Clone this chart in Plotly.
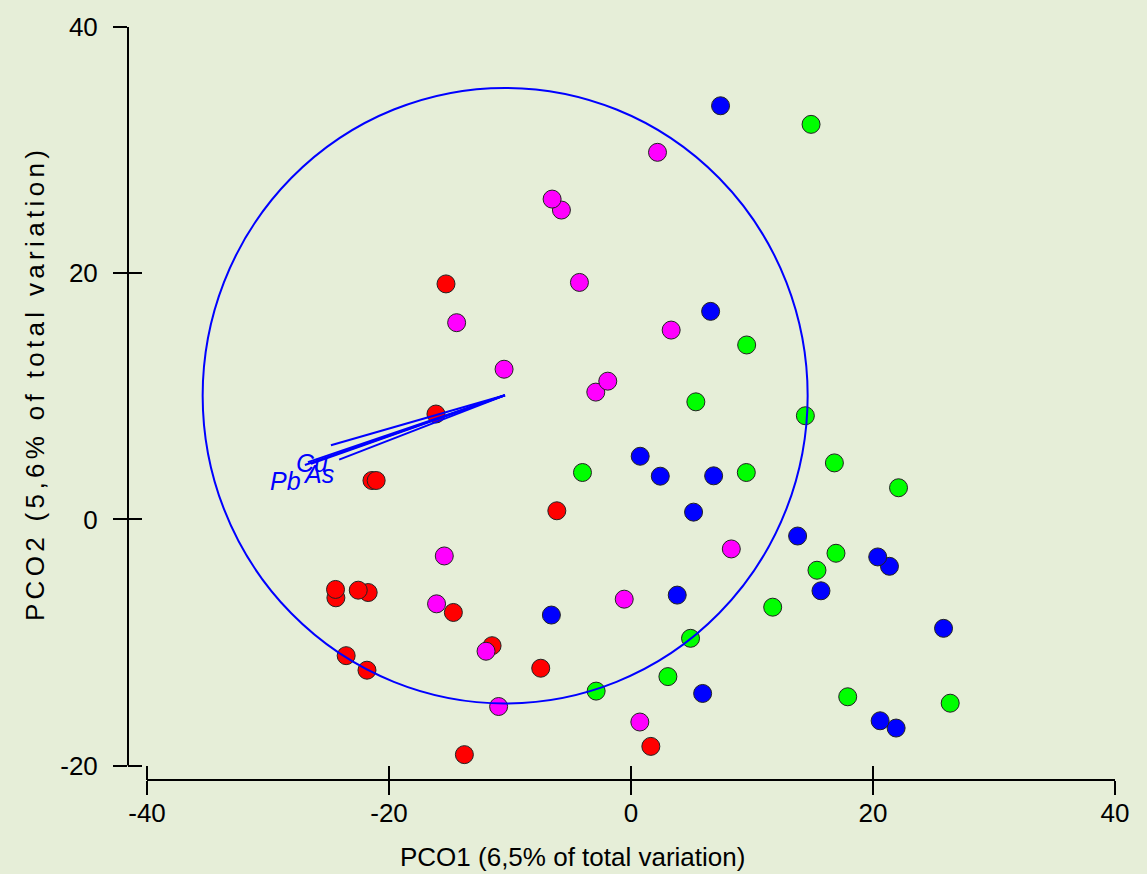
import plotly.graph_objects as go

# ---- data ----
red_x = [-15.29, -16.12, -21.41, -21.06, -6.13, -24.39, -24.42, -21.72, -22.54, -14.68, -11.48, -23.54, -21.82, -7.46, 1.64, -13.77]
red_y = [19.13, 8.56, 3.16, 3.16, 0.70, -6.37, -5.69, -5.94, -5.75, -7.56, -10.26, -11.07, -12.25, -12.09, -18.44, -19.11]

green_x = [14.88, 9.56, 5.36, 14.41, -4.01, 9.53, 16.81, 22.11, 16.94, 15.37, 11.71, 4.92, 3.05, -2.88, 17.91, 26.38]
green_y = [32.09, 14.17, 9.55, 8.42, 3.81, 3.81, 4.59, 2.57, -2.75, -4.13, -7.13, -9.66, -12.77, -13.95, -14.41, -14.93]

blue_x = [7.40, 6.58, 0.76, 2.42, 6.83, 5.17, 13.77, 21.36, 20.39, 15.70, 3.82, 25.83, 5.92, 21.91, 20.59, -6.58]
blue_y = [33.60, 16.90, 5.13, 3.51, 3.54, 0.59, -1.35, -3.81, -3.05, -5.80, -6.15, -8.85, -14.14, -16.95, -16.36, -7.77]

magenta_x = [-5.75, -6.52, -4.26, -14.41, -10.49, -2.91, -1.92, 2.19, 3.32, -15.43, -16.07, -0.56, -11.98, -10.94, 0.73, 8.29]
magenta_y = [25.13, 26.02, 19.25, 15.98, 12.20, 10.34, 11.23, 29.82, 15.38, -2.97, -6.86, -6.48, -10.71, -15.20, -16.46, -2.40]

# vector overlay: origin, end points, labels
vec_origin = (-10.42, 10.08)
vec_end_x = [-24.80, -24.12, -26.95, -26.70, -26.45]
vec_end_y = [6.02, 4.86, 4.42, 4.65, 4.52]
vec_labels = ["Cu", "As", "Pb"]
vec_label_x = [-26.35, -25.85, -28.55]
vec_label_y = [4.55, 3.65, 3.15]

circle_center = (-10.4, 10.05)
circle_radius = 25.0

tick_vals_x = [-40, -20, 0, 20, 40]
tick_text_x = ["-40", "-20", "0", "20", "40"]
tick_vals_y = [-20, 0, 20, 40]
tick_text_y = ["-20", "0", "20", "40"]

x_title = "PCO1 (6,5% of total variation)"
y_title = "PCO2 (5,6% of total variation)"

BG = "#E6EED8"
FONT = "Liberation Sans, Arial, sans-serif"

fig = go.Figure()

def add_group(xs, ys, color):
    fig.add_trace(go.Scatter(
        x=xs, y=ys, mode="markers", showlegend=False, hoverinfo="skip",
        marker=dict(size=18, color=color, line=dict(color="#222222", width=1)),
        xaxis="x", yaxis="y"))

add_group(red_x, red_y, "#FF0000")
add_group(green_x, green_y, "#00FF00")
add_group(blue_x, blue_y, "#0000FF")
add_group(magenta_x, magenta_y, "#FF00FF")

# vectors (drawn on the overlay axes so they sit above the markers)
vx, vy = [], []
for ex, ey in zip(vec_end_x, vec_end_y):
    vx += [vec_origin[0], ex, None]
    vy += [vec_origin[1], ey, None]
fig.add_trace(go.Scatter(x=vx, y=vy, mode="lines", showlegend=False, hoverinfo="skip",
                         line=dict(color="#0000FF", width=2), xaxis="x2", yaxis="y2"))

shapes = [
    dict(type="circle", xref="x", yref="y",
         x0=circle_center[0] - circle_radius, x1=circle_center[0] + circle_radius,
         y0=circle_center[1] - circle_radius, y1=circle_center[1] + circle_radius,
         line=dict(color="#0000FF", width=2), layer="above"),
    # detached axis lines spanning the tick range
    dict(type="line", xref="x", yref="paper", x0=tick_vals_x[0], x1=tick_vals_x[-1], y0=0, y1=0,
         line=dict(color="black", width=2), layer="above"),
    dict(type="line", xref="paper", yref="y", x0=0, x1=0, y0=tick_vals_y[0], y1=tick_vals_y[-1],
         line=dict(color="black", width=2), layer="above"),
]

annotations = []
for t, ax_, ay_ in zip(vec_labels, vec_label_x, vec_label_y):
    annotations.append(dict(text=t, x=ax_, y=ay_, xref="x", yref="y", showarrow=False,
                            xanchor="center", yanchor="middle",
                            font=dict(family=FONT, size=25, color="#0000FF", style="italic")))

W, H = 1147, 874
L, R, T, B = 128, 32, 25, 94
pw, ph = W - L - R, H - T - B
annotations.append(dict(text=x_title, xref="paper", yref="paper",
                        x=(572.5 - L) / pw, y=(H - B - 857) / ph, showarrow=False,
                        xanchor="center", yanchor="middle",
                        font=dict(family=FONT, size=26, color="black")))
spaced = "\u2006".join(list(y_title))
annotations.append(dict(text=spaced, xref="paper", yref="paper",
                        x=(35 - L) / pw, y=(H - B - 385) / ph, showarrow=False, textangle=-90,
                        xanchor="center", yanchor="middle",
                        font=dict(family=FONT, size=26, color="black")))

axis_common = dict(showgrid=False, zeroline=False, showline=False, ticklen=14, tickwidth=2,
                   tickcolor="black", tickfont=dict(family=FONT, size=26, color="black"))

fig.update_layout(
    width=W, height=H,
    margin=dict(l=L, r=R, t=T, b=B, pad=0),
    paper_bgcolor=BG, plot_bgcolor=BG,
    xaxis=dict(range=[-41.57, 40], tickmode="array", tickvals=tick_vals_x, ticktext=tick_text_x,
               ticks="outside", ticklabelstandoff=-4, **axis_common),
    yaxis=dict(range=[-21.17, 40], tickmode="array", tickvals=tick_vals_y, ticktext=tick_text_y,
               ticks="outside", ticklabelstandoff=10, **axis_common),
    xaxis2=dict(overlaying="x", matches="x", anchor="y2", side="bottom", tickmode="array",
                tickvals=tick_vals_x, ticks="inside", showticklabels=False, **axis_common),
    yaxis2=dict(overlaying="y", matches="y", anchor="x2", side="left", tickmode="array",
                tickvals=tick_vals_y, ticks="inside", showticklabels=False, **axis_common),
    shapes=shapes, annotations=annotations, showlegend=False,
)

fig.write_html("out.html", config={"displayModeBar": False},
               post_script="document.body.style.margin='0';document.body.style.background='" + BG + "';")
